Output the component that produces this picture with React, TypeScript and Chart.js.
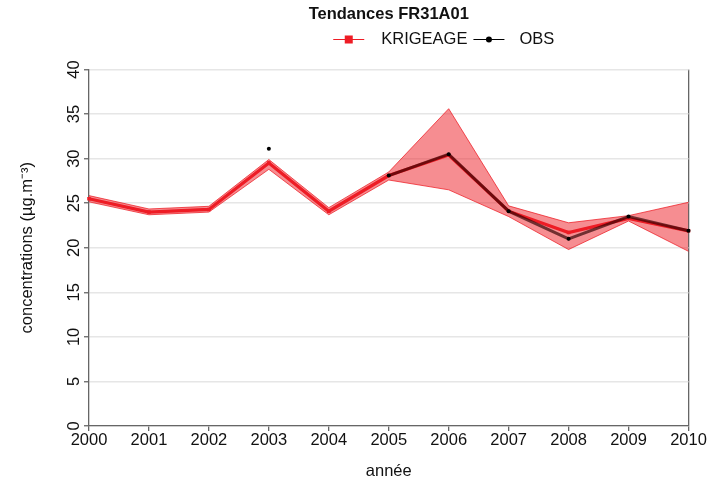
import React, { useEffect, useRef } from "react";
import { Chart, registerables } from "chart.js";

Chart.register(...registerables);

const FONT = "'Liberation Sans', Arial, sans-serif";
const RED = "#ee1c25";

const chartTitle = "Tendances FR31A01";
const xTitle = "année";
const yTitle = "concentrations (µg.m⁻³)";
const seriesNames = ["KRIGEAGE", "OBS"];

const years = ["2000", "2001", "2002", "2003", "2004", "2005", "2006", "2007", "2008", "2009", "2010"];
const krigeage = [25.5, 24.0, 24.3, 29.5, 24.1, 28.1, 30.4, 24.1, 21.7, 23.3, 21.9];
const krigeageUpper = [25.85, 24.35, 24.65, 29.9, 24.5, 28.5, 35.6, 24.7, 22.8, 23.6, 25.1];
const krigeageLower = [25.15, 23.7, 24.0, 28.8, 23.7, 27.6, 26.5, 23.5, 19.8, 23.0, 19.6];
const obs: (number | null)[] = [null, null, null, 31.1, null, 28.1, 30.5, 24.1, 21.0, 23.5, 21.9];

const yMin = 0;
const yMax = 40;
const yStep = 5;

const legendPlugin = {
  id: "customLegend",
  afterDraw(chart: any) {
    const ctx = chart.ctx as CanvasRenderingContext2D;
    const { left, right } = chart.chartArea;
    const cx = (left + right) / 2;
    const y = 39.5;
    let x = cx - 55.5;
    const items = [
      { label: seriesNames[0], color: RED, marker: "rect" },
      { label: seriesNames[1], color: "#000", marker: "circle" },
    ];
    ctx.save();
    ctx.font = `16.5px ${FONT}`;
    ctx.textBaseline = "middle";
    ctx.textAlign = "left";
    items.forEach((it, i) => {
      ctx.strokeStyle = it.color;
      ctx.lineWidth = 1;
      ctx.beginPath();
      ctx.moveTo(x, y);
      ctx.lineTo(x + 31, y);
      ctx.stroke();
      ctx.fillStyle = it.color;
      if (it.marker === "rect") {
        ctx.fillRect(x + 15.5 - 4, y - 4, 8, 8);
      } else {
        ctx.beginPath();
        ctx.arc(x + 15.5, y, 3, 0, Math.PI * 2);
        ctx.fill();
      }
      x += 31 + (i === 0 ? 17 : 15);
      ctx.fillStyle = "#111";
      ctx.fillText(it.label, x, y);
      x += ctx.measureText(it.label).width + 6;
    });
    ctx.restore();
  },
};

export default function App() {
  const ref = useRef<HTMLCanvasElement>(null);

  useEffect(() => {
    document.body.style.margin = "0";
    const canvas = ref.current;
    if (!canvas) return;
    const chart = new Chart(canvas, {
      type: "line",
      data: {
        labels: years,
        datasets: [
          {
            label: seriesNames[1],
            data: obs,
            borderColor: "rgba(45,0,0,0.66)",
            backgroundColor: "#000",
            borderWidth: 3,
            pointRadius: 2,
            pointBackgroundColor: "#000",
            pointBorderWidth: 0,
            spanGaps: false,
            order: 0,
            fill: false,
          },
          {
            label: seriesNames[0],
            data: krigeage,
            borderColor: RED,
            backgroundColor: RED,
            borderWidth: 3.2,
            pointStyle: "rect",
            pointRadius: 2.5,
            pointBorderWidth: 0,
            order: 1,
            fill: false,
          },
          {
            label: "lower",
            data: krigeageLower,
            borderColor: "rgba(237,28,36,0.75)",
            borderWidth: 1,
            pointRadius: 0,
            order: 3,
            fill: false,
          },
          {
            label: "upper",
            data: krigeageUpper,
            borderColor: "rgba(237,28,36,0.75)",
            backgroundColor: "rgba(237,28,36,0.5)",
            borderWidth: 1,
            pointRadius: 0,
            order: 2,
            fill: "-1",
          },
        ],
      },
      options: {
        animation: false,
        responsive: false,
        devicePixelRatio: 1,
        layout: { padding: { left: 0, right: 19.5, top: 0, bottom: 0 } },
        elements: { line: { tension: 0 } },
        plugins: {
          legend: { display: false },
          tooltip: { enabled: false },
          title: {
            display: true,
            text: chartTitle,
            fullSize: false,
            color: "#111",
            font: { family: FONT, size: 16.5, weight: "bold" },
            padding: { top: 4.5, bottom: 45.2 },
          },
        },
        scales: {
          x: {
            type: "category",
            offset: false,
            afterFit: (s: any) => {
              s.height = 57;
            },
            grid: {
              display: true,
              drawOnChartArea: true,
              color: (c: any) => (c.index === years.length - 1 ? "#666" : "rgba(0,0,0,0)"),
              lineWidth: 1.3,
              drawTicks: true,
              tickLength: 5,
              tickColor: "#666",
              tickWidth: 1.3,
            },
            border: { display: true, color: "#666", width: 1.3 },
            ticks: {
              color: "#111",
              font: { family: FONT, size: 16.5 },
              padding: 0,
              autoSkip: false,
              maxRotation: 0,
              minRotation: 0,
            },
            title: {
              display: true,
              text: xTitle,
              color: "#111",
              font: { family: FONT, size: 16.5 },
              padding: { top: 0, bottom: 1.6 },
            },
          },
          y: {
            type: "linear",
            min: yMin,
            max: yMax,
            afterFit: (s: any) => {
              s.width = 89;
            },
            grid: {
              color: "#e6e6e6",
              lineWidth: 1.5,
              drawTicks: true,
              tickLength: 5,
              tickColor: "#666",
              tickWidth: 1.3,
            },
            border: { display: true, color: "#666", width: 1.3 },
            ticks: {
              stepSize: yStep,
              color: "#111",
              font: { family: FONT, size: 16.5 },
              minRotation: 90,
              maxRotation: 90,
              crossAlign: "center",
              padding: 0,
              autoSkip: false,
            },
            title: {
              display: true,
              text: yTitle,
              color: "#111",
              font: { family: FONT, size: 16.5 },
              padding: { top: 18, bottom: 0 },
            },
          },
        },
      },
      plugins: [legendPlugin],
    } as any);
    return () => chart.destroy();
  }, []);

  return (
    <div style={{ width: 708, height: 483 }}>
      <canvas ref={ref} width={708} height={483} />
    </div>
  );
}
